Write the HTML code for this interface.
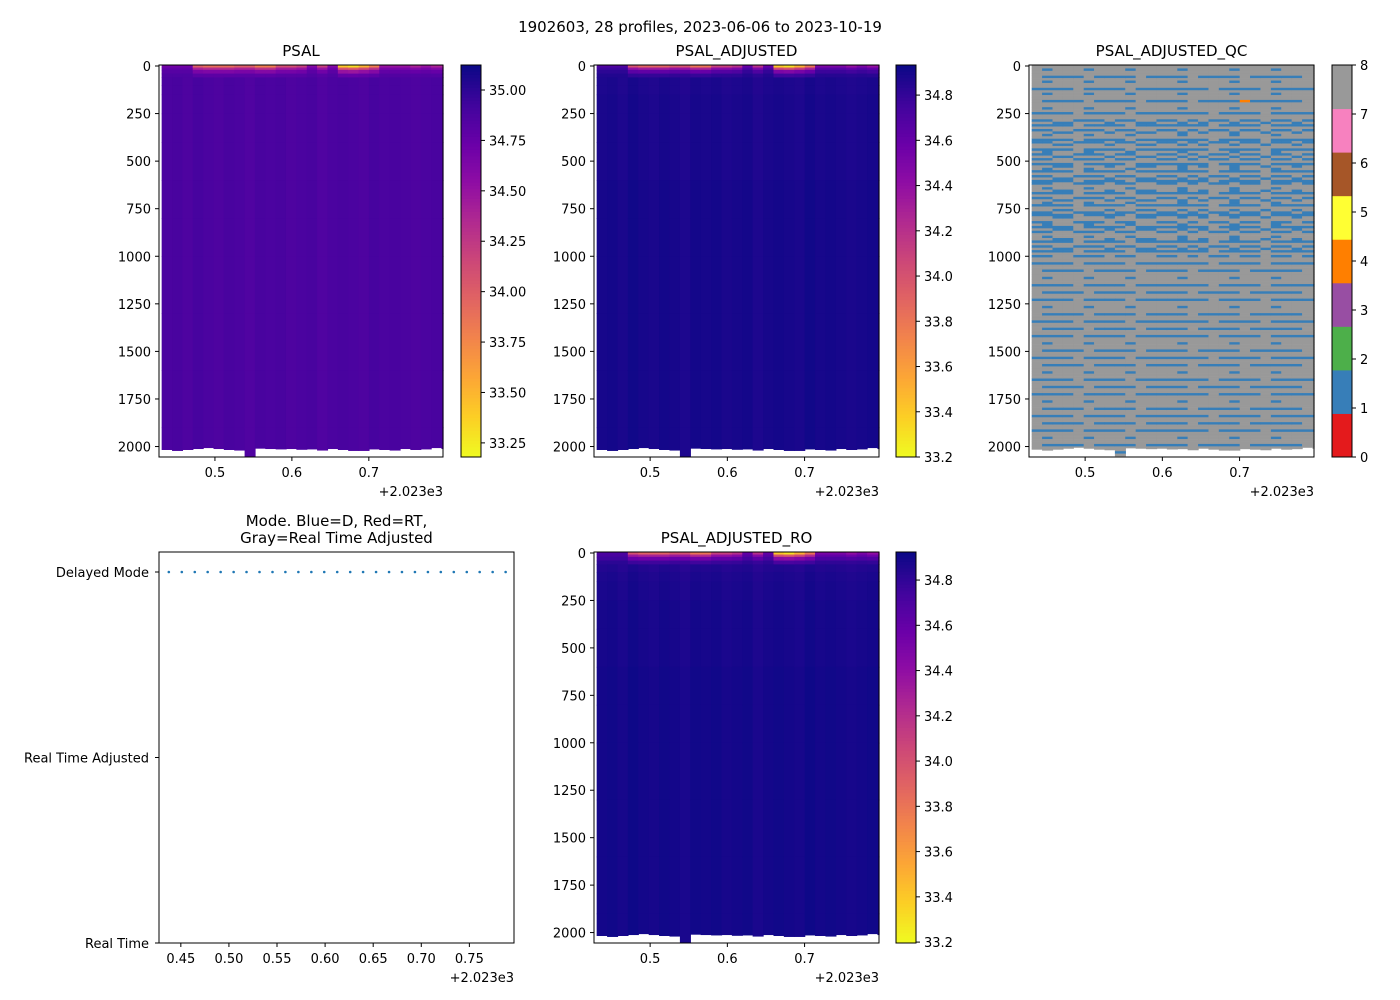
<!DOCTYPE html>
<html><head><meta charset="utf-8">
<style>
html,body{margin:0;padding:0;background:#fff;}
svg{display:block;font-family:"DejaVu Sans","Liberation Sans",sans-serif;}
</style></head>
<body>
<svg id="fig" width="1400" height="1000" viewBox="0 0 1400 1000" xmlns="http://www.w3.org/2000/svg">
<rect width="1400" height="1000" fill="#fff"/>
<text x="700" y="32" font-size="15" text-anchor="middle">1902603, 28 profiles, 2023-06-06 to 2023-10-19</text>
</svg>
<script>
// ---------------- data ----------------
const profileTimes = [0.4375,0.4510,0.4645,0.4779,0.4914,0.5049,0.5183,0.5318,0.5453,0.5587,0.5722,0.5857,0.5991,0.6126,0.6261,0.6395,0.6530,0.6665,0.6799,0.6934,0.7069,0.7203,0.7338,0.7473,0.7607,0.7742,0.7877,0.8011];
const profileModes = [2,2,2,2,2,2,2,2,2,2,2,2,2,2,2,2,2,2,2,2,2,2,2,2,2,2,2,2];
const bottomDepths = [2015,2020,2015,2010,2005,2010,2015,2018,2050,2008,2010,2012,2010,2014,2012,2018,2010,2015,2020,2020,2012,2015,2018,2010,2015,2012,2005,2010];
const depthLevels = [0,8,20,40,60,100,150,250,400,600,800,1000,1300,1600,1900,2060];
const psalBase = [34.86,34.86,34.87,34.88,34.88,34.88,34.88,34.88,34.88,34.88,34.88,34.88,34.88,34.88,34.88,34.88];
const adjBase  = [34.86,34.86,34.87,34.88,34.88,34.88,34.89,34.89,34.89,34.90,34.90,34.90,34.90,34.90,34.90,34.90];
const roBase   = [34.66,34.70,34.75,34.82,34.85,34.87,34.88,34.89,34.89,34.90,34.90,34.90,34.90,34.90,34.90,34.90];
const surfaceWeight = [1,0.55,0.25,0.08,0,0,0,0,0,0,0,0,0,0,0,0];
const surfaceSal = [34.7,34.7,34.7,34.0,33.9,33.9,33.9,34.0,34.0,33.8,33.8,34.1,34.1,34.2,34.6,34.2,34.6,33.4,33.3,33.5,33.8,34.5,34.5,34.5,34.4,34.5,34.4,34.4];
const columnOffset = [0.00,0.01,-0.01,0.02,0.00,-0.01,0.01,0.00,-0.02,0.01,0.00,0.01,-0.01,0.00,0.01,-0.02,0.00,0.01,0.00,-0.01,0.02,0.00,0.01,0.00,-0.01,0.00,0.01,0.00];
const qcCodes = [0,1,2,3,4,5,6,7,8];
const qcTemplates = [
"888888888888888888888888888",
"111181111811111118111181111",
"818881888188881888818881888",
"118811181188118181181181181",
"881188818811881818818818818",
"811118111181111811118111118"
];
const qcRowOrder = "0200502001020050020100"+"341034201340123430142103413024103421043140321430241034103"+"0010050020010050010020050010050010020050010050020010050010020050010050010020050010";
const qcFlagColumn = 20, qcFlagDepth = 180, qcFlagCode = 4;
const psalTicks = [33.25,33.50,33.75,34.00,34.25,34.50,34.75,35.00];
const adjTicks = [33.2,33.4,33.6,33.8,34.0,34.2,34.4,34.6,34.8];
const depthTicks = [0,250,500,750,1000,1250,1500,1750,2000];
const timeTicks = [0.5,0.6,0.7];
const modeTimeTicks = [0.45,0.50,0.55,0.60,0.65,0.70,0.75];
const modeTicks = [0,1,2];
const modeLabels = ["Real Time","Real Time Adjusted","Delayed Mode"];

// ---------------- helpers ----------------
const NS = "http://www.w3.org/2000/svg";
const svg = document.getElementById("fig");
function mk(tag, attrs, parent){
  const e = document.createElementNS(NS, tag);
  for (const k in attrs) e.setAttribute(k, attrs[k]);
  (parent||svg).appendChild(e);
  return e;
}
const plasmaStops = ["#0d0887","#41049d","#6a00a8","#8f0da4","#b12a90","#cc4778","#e16462","#f2844b","#fca636","#fcce25","#f0f921"];
function hex2rgb(h){return [parseInt(h.substr(1,2),16),parseInt(h.substr(3,2),16),parseInt(h.substr(5,2),16)];}
function plasma(t){
  t=Math.max(0,Math.min(1,t));
  const p=t*10, i=Math.min(9,Math.floor(p)), f=p-i;
  const a=hex2rgb(plasmaStops[i]), b=hex2rgb(plasmaStops[i+1]);
  return "rgb("+a.map((v,k)=>Math.round(v+(b[k]-v)*f)).join(",")+")";
}
const qcColors = ["#e41a1c","#377eb8","#4daf4a","#984ea3","#ff7f00","#ffff33","#a65628","#f781bf","#999999"];
const TMIN=0.4273, TMAX=0.7964, DMAX=2055;

function yAxis(ax, ticks){
  const g = mk("g",{});
  
  
  ticks.forEach(d=>{
    const y = ax.y(d);
    mk("line",{x1:ax.x0-4,x2:ax.x0,y1:y,y2:y,stroke:"#000","stroke-width":1},g);
    const t = mk("text",{x:ax.x0-8,y:y+5,"font-size":13,"text-anchor":"end"},g);
    t.textContent = d;
  });
}
function xAxis(ax, ticks, dec){
  const g = mk("g",{});
  
  
  ticks.forEach(v=>{
    const x = ax.x(v);
    mk("line",{x1:x,x2:x,y1:ax.y1,y2:ax.y1+4,stroke:"#000","stroke-width":1},g);
    const t = mk("text",{x:x,y:ax.y1+20,"font-size":13,"text-anchor":"middle"},g);
    t.textContent = v.toFixed(dec);
  });
  const o = mk("text",{x:ax.x1,y:ax.y1+39,"font-size":13,"text-anchor":"end"},g);
  
  
  o.textContent = "+2.023e3";
}
function frame(ax){
  mk("rect",{x:ax.x0,y:ax.y0,width:ax.x1-ax.x0,height:ax.y1-ax.y0,fill:"none",stroke:"#000","stroke-width":1});
}
function title(ax, lines, name){
  lines.forEach((s,i)=>{
    const t = mk("text",{x:(ax.x0+ax.x1)/2,y:ax.y0-9-(lines.length-1-i)*17,"font-size":15,"text-anchor":"middle"});
    
    
    t.textContent = s;
  });
}
function makeAx(x0,x1,y0,y1){
  return {x0,x1,y0,y1,
    x:t=>x0+(t-TMIN)/(TMAX-TMIN)*(x1-x0),
    y:d=>y0+1+d/ (DMAX) * (y1-y0-1)};
}
function cellEdges(i){
  const step = profileTimes[1]-profileTimes[0];
  return [Math.max(TMIN,profileTimes[i]-step/2), Math.min(TMAX,profileTimes[i]+step/2)];
}
function heatmap(ax, base, vmin, vmax, name){
  const g = mk("g",{});
  
  
  for (let i=0;i<profileTimes.length;i++){
    const [ta,tb] = cellEdges(i);
    if (tb<=ta) continue;
    const xa=ax.x(ta), xb=ax.x(tb);
    for (let k=0;k<depthLevels.length-1;k++){
      const d0 = depthLevels[k];
      let d1 = Math.min(depthLevels[k+1], bottomDepths[i]);
      if (d0>=d1) continue;
      const v = base[k] + (surfaceSal[i]-base[0])*surfaceWeight[k] + columnOffset[i]*(k>3?1:0);
      const c = plasma((vmax-v)/(vmax-vmin));
      const y0 = k===0?ax.y0:ax.y(d0), y1=Math.min(ax.y1,ax.y(d1));
      const r = mk("rect",{x:xa,y:y0,width:xb-xa+0.6,height:y1-y0+0.6,fill:c},g);
      
      
    }
  }
}
function colorbar(x0,y0,y1,vmin,vmax,ticks,dec,name){
  const g = mk("g",{});
  
  
  const n=120, h=(y1-y0)/n;
  for(let i=0;i<n;i++){
    mk("rect",{x:x0,y:y0+i*h,width:20,height:h+0.5,fill:plasma(i/(n-1))},g);
  }
  mk("rect",{x:x0,y:y0,width:20,height:y1-y0,fill:"none",stroke:"#000","stroke-width":1},g);
  ticks.forEach(v=>{
    const y = y0+(vmax-v)/(vmax-vmin)*(y1-y0);
    mk("line",{x1:x0+20,x2:x0+24,y1:y,y2:y,stroke:"#000"},g);
    const t=mk("text",{x:x0+28,y:y+5,"font-size":13},g);
    t.textContent=v.toFixed(dec);
  });
}

// ---------------- panel 1: PSAL ----------------
const ax1 = makeAx(159,443,65,457);
heatmap(ax1, psalBase, 33.18, 35.124, "psal-heatmap");
frame(ax1); yAxis(ax1, depthTicks); xAxis(ax1, timeTicks, 1);
title(ax1,["PSAL"],"psal-title");
colorbar(461,65,457,33.18,35.124,psalTicks,2,"psal-colorbar");

// ---------------- panel 2: PSAL_ADJUSTED ----------------
const ax2 = makeAx(594,879,65,457);
heatmap(ax2, adjBase, 33.2, 34.933, "psal-adjusted-heatmap");
frame(ax2); yAxis(ax2, depthTicks); xAxis(ax2, timeTicks, 1);
title(ax2,["PSAL_ADJUSTED"],"psal-adjusted-title");
colorbar(896,65,457,33.2,34.933,adjTicks,1,"psal-adjusted-colorbar");

// ---------------- panel 3: QC ----------------
const ax3 = makeAx(1029,1314,65,457);
(function(){
  const g = mk("g",{});
  
  
  const nRows = qcRowOrder.length;
  const rowH = 2050/nRows;
  for (let i=0;i<profileTimes.length;i++){
    const [ta,tb] = cellEdges(i);
    if (tb<=ta) continue;
    const xa=ax3.x(ta), xb=ax3.x(tb);
    const col = Math.min(i,26);
    for (let r=0;r<nRows;r++){
      const d0=r*rowH; let d1=(r+1)*rowH;
      if (d0>=bottomDepths[i]) continue;
      d1=Math.min(d1,bottomDepths[i]);
      let code = +qcTemplates[+qcRowOrder[r]][col];
      if (i===qcFlagColumn && qcFlagDepth>=d0 && qcFlagDepth<d1) code = qcFlagCode;
      const y0 = r===0?ax3.y0:ax3.y(d0);
      const rc = mk("rect",{x:xa,y:y0,width:xb-xa+0.6,height:Math.min(ax3.y1,ax3.y(d1))-y0+0.3,fill:qcColors[code]},g);
      
      
    }
  }
})();
frame(ax3); yAxis(ax3, depthTicks); xAxis(ax3, timeTicks, 1);
title(ax3,["PSAL_ADJUSTED_QC"],"psal-adjusted-qc-title");
(function(){
  const g = mk("g",{});
  
  
  const x0=1332,y0=65,y1=457,h=(y1-y0)/qcCodes.length;
  qcCodes.forEach((c,i)=>{
    mk("rect",{x:x0,y:y1-(i+1)*h,width:20,height:h+0.5,fill:qcColors[c]},g);
  });
  mk("rect",{x:x0,y:y0,width:20,height:y1-y0,fill:"none",stroke:"#000"},g);
  for(let v=0;v<=8;v++){
    const y=y1-v*(y1-y0)/8;
    mk("line",{x1:x0+20,x2:x0+24,y1:y,y2:y,stroke:"#000"},g);
    const t=mk("text",{x:x0+28,y:y+5,"font-size":13},g); t.textContent=v;
  }
})();

// ---------------- panel 4: Mode ----------------
(function(){
  const x0=159,x1=514,y0=552,y1=943;
  const mx=t=>x0+(t-TMIN)/(TMAX-TMIN)*(x1-x0);
  const my=m=>y1-m/2*(y1-572);
  const g = mk("g",{});
  
  
  profileTimes.forEach((t,i)=>{
    const x=mx(t); if(x>x1+1) return;
    const c=mk("circle",{cx:x,cy:my(profileModes[i]),r:1.3,fill:"#1f77b4"},g);
    
    
  });
  mk("rect",{x:x0,y:y0,width:x1-x0,height:y1-y0,fill:"none",stroke:"#000"});
  modeTicks.forEach((m,i)=>{
    const y=my(m);
    mk("line",{x1:x0-4,x2:x0,y1:y,y2:y,stroke:"#000"});
    const t=mk("text",{x:x0-10,y:y+5,"font-size":13,"text-anchor":"end"});
    
    
    t.textContent=modeLabels[i];
  });
  modeTimeTicks.forEach(v=>{
    const x=mx(v);
    mk("line",{x1:x,x2:x,y1:y1,y2:y1+4,stroke:"#000"});
    const t=mk("text",{x:x,y:y1+20,"font-size":13,"text-anchor":"middle"}); t.textContent=v.toFixed(2);
  });
  const o=mk("text",{x:x1,y:y1+39,"font-size":13,"text-anchor":"end"}); o.textContent="+2.023e3";
  title({x0,x1,y0},["Mode. Blue=D, Red=RT,","Gray=Real Time Adjusted"],"mode-title");
})();

// ---------------- panel 5: PSAL_ADJUSTED_RO ----------------
const ax5 = makeAx(594,879,552,943);
heatmap(ax5, roBase, 33.196, 34.924, "psal-adjusted-ro-heatmap");
frame(ax5); yAxis(ax5, depthTicks); xAxis(ax5, timeTicks, 1);
title(ax5,["PSAL_ADJUSTED_RO"],"psal-adjusted-ro-title");
colorbar(896,552,943,33.196,34.924,adjTicks,1,"psal-adjusted-ro-colorbar");
</script>
</body></html>
